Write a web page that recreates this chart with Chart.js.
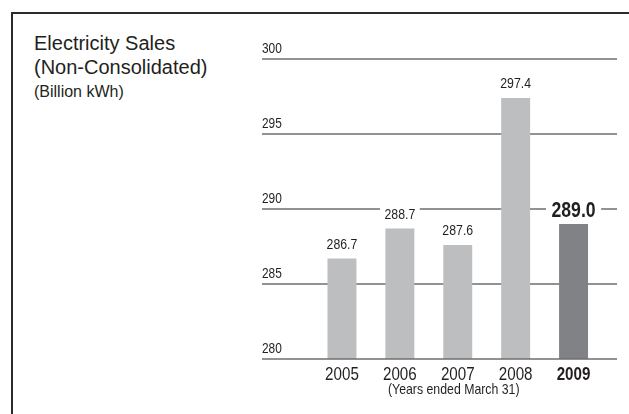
<!DOCTYPE html>
<html>
<head>
<meta charset="utf-8">
<title>Electricity Sales (Non-Consolidated)</title>
<script src="https://cdn.jsdelivr.net/npm/chart.js@4.4.0/dist/chart.umd.min.js"></script>
<style>
  html, body { margin: 0; padding: 0; background: #fff; }
  #wrap { position: relative; width: 629px; height: 414px; overflow: hidden; }
  #frame {
    position: absolute; left: 11px; top: 12px; right: -2px; bottom: -2px;
    border-top: 2px solid #2b2b2b; border-left: 2px solid #2b2b2b;
  }
  #heading, #unit {
    position: absolute; left: 34px; color: #231f20;
    font-family: "Liberation Sans", Arial, sans-serif; white-space: nowrap;
  }
  #heading { top: 31px; font-size: 20px; line-height: 24px; }
  #unit { top: 82.5px; font-size: 16px; line-height: 18px; }
  #chart { position: absolute; left: 0; top: 0; }
</style>
</head>
<body>
<div id="wrap">
  <div id="frame"></div>
  <div id="heading">Electricity Sales<br>(Non-Consolidated)</div>
  <div id="unit">(Billion kWh)</div>
  <canvas id="chart" width="629" height="414"></canvas>
</div>
<script>
"use strict"

// data
const years = ["2005", "2006", "2007", "2008", "2009"];
const sales = [286.7, 288.7, 287.6, 297.4, 289.0];
const yTicks = [280, 285, 290, 295, 300];
const xTitle = "(Years ended March 31)";

const FONT = '"Liberation Sans", Arial, sans-serif';
const SQUEEZE = 0.82;   // no condensed face installed, so the regular one is squeezed
const INK = "#231f20";
const RULE = "#6d6e71";

// last year is highlighted
const barColors = years.map((y, i) => i === years.length - 1 ? "#808285" : "#bcbec0");

function hline(ctx, x1, x2, y){
    ctx.beginPath();
    ctx.moveTo(x1, y);
    ctx.lineTo(x2, y);
    ctx.stroke();
}

// condensed text: returns the drawn width
function narrowText(ctx, text, x, y, size, bold, align){
    ctx.save();
    ctx.font = (bold ? "bold " : "") + size + "px " + FONT;
    ctx.textAlign = align;
    ctx.textBaseline = "alphabetic";
    ctx.translate(x, y);
    ctx.scale(SQUEEZE, 1);
    ctx.fillText(text, 0, 0);
    ctx.restore();
}

function narrowWidth(ctx, text, size, bold){
    ctx.save();
    ctx.font = (bold ? "bold " : "") + size + "px " + FONT;
    const w = ctx.measureText(text).width * SQUEEZE;
    ctx.restore();
    return w;
}

// gridlines, tick labels, value labels and the category labels are all drawn here
const salesDecor = {
    id: "salesDecor",
    beforeDatasetsDraw(chart) {
        const ctx = chart.ctx;
        const area = chart.chartArea;
        const yScale = chart.scales.y;
        ctx.save();
        ctx.strokeStyle = RULE;
        ctx.lineWidth = 1.5;
        ctx.fillStyle = INK;
        for (let i = 0; i < yTicks.length; i++){
            const py = yScale.getPixelForValue(yTicks[i]);
            if (i > 0) hline(ctx, area.left - 51, area.right + 14.5, py);
            narrowText(ctx, String(yTicks[i]), area.left - 51, py - 6, 14.5, false, "left");
        }
        ctx.restore();
    },
    afterDatasetsDraw(chart) {
        const ctx = chart.ctx;
        const area = chart.chartArea;
        const yScale = chart.scales.y;
        const xScale = chart.scales.x;
        const bars = chart.getDatasetMeta(0).data;
        const last = bars.length - 1;
        ctx.save();

        // baseline over the bar feet
        ctx.strokeStyle = RULE;
        ctx.lineWidth = 1.5;
        hline(ctx, area.left - 51, area.right + 14.5, yScale.getPixelForValue(yTicks[0]));

        // value labels sit on a white patch so the rules break around them
        for (let i = 0; i < bars.length; i++){
            const bold = i === last;
            const size = bold ? 21.5 : 15;
            const text = sales[i].toFixed(1);
            const w = narrowWidth(ctx, text, size, bold);
            const cy = bars[i].y - 15;
            const pad = bold ? 5.5 : 4.5;
            ctx.fillStyle = "#fff";
            ctx.fillRect(bars[i].x - w / 2 - pad, cy - size * 0.45, w + pad * 2, size * 0.9);
            ctx.fillStyle = INK;
            narrowText(ctx, text, bars[i].x, cy + size * 0.358, size, bold, "center");
        }

        // years under the axis
        const bottom = area.bottom;
        ctx.fillStyle = INK;
        for (let i = 0; i < years.length; i++){
            narrowText(ctx, years[i], xScale.getPixelForValue(i), bottom + 21, 18.5, i === last, "center");
        }
        narrowText(ctx, xTitle, (area.left + area.right) / 2 - 4, bottom + 34.5, 15, false, "center");
        ctx.restore();
    }
};

const data = {
    labels: years,
    datasets: [
        {
            label: "Electricity Sales",
            data: sales,
            backgroundColor: barColors,
            borderWidth: 0,
            barPercentage: 0.5,
            categoryPercentage: 1.0,
        },
    ],
};

const config = {
    type: "bar",
    data: data,
    options: {
        responsive: false,
        animation: false,
        devicePixelRatio: 1,
        layout: {
            padding: { left: 313, right: 26.5, top: 59, bottom: 55 },
        },
        scales: {
            x: { display: false, offset: true },
            y: { display: false, min: 280, max: 300, ticks: { stepSize: 5 } },
        },
        plugins: {
            legend: { display: false },
            tooltip: { enabled: false },
        },
    },
    plugins: [salesDecor],
};

const salesChart = new Chart(document.getElementById("chart"), config);
</script>
</body>
</html>
